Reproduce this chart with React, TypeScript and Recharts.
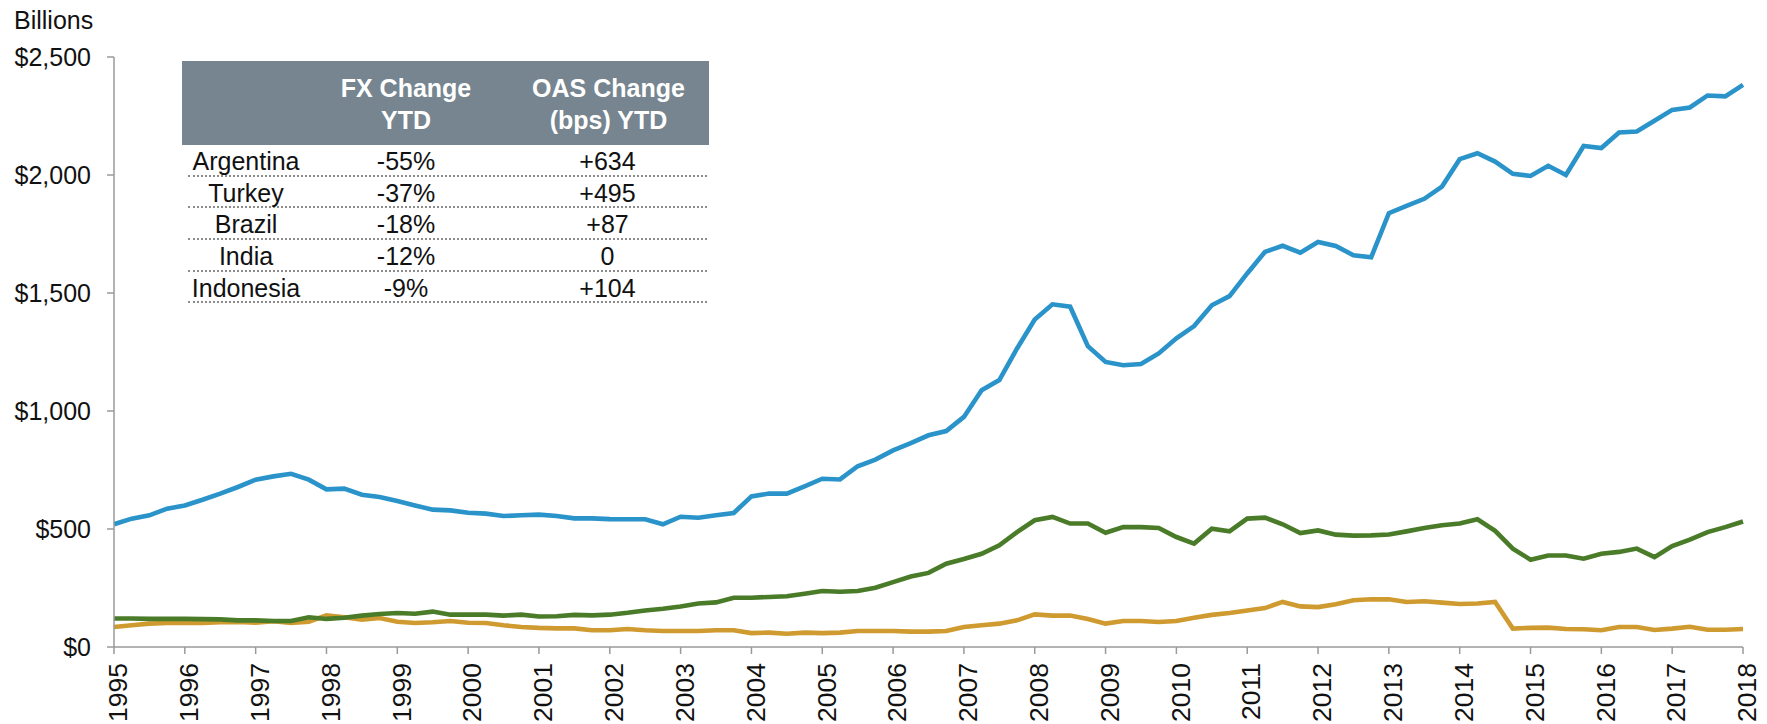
import React from "react";
import { LineChart, Line, XAxis, YAxis } from "recharts";

// ── Data ───────────────────────────────────────────────────────────────────
const years = [
  1995, 1996, 1997, 1998, 1999, 2000, 2001, 2002, 2003, 2004, 2005, 2006,
  2007, 2008, 2009, 2010, 2011, 2012, 2013, 2014, 2015, 2016, 2017, 2018,
];
const quarterNames = ["Q1", "Q2", "Q3", "Q4"];

// quarterly from 1995 Q1 to 2018 Q1 (93 points), $ billions
const blueSeries = [
  520, 544, 558, 586, 600, 624, 650, 678, 709, 723, 734, 709, 668, 671, 645, 636,
  619, 600, 582, 579, 569, 565, 555, 558, 561, 555, 545, 545,
  542, 541, 541, 520, 552, 548, 558, 568, 638, 650, 650, 681, 713, 710, 766, 794,
  833, 864, 897, 915, 975, 1088,
  1131, 1265, 1388, 1452, 1442, 1275, 1208, 1194, 1199, 1244, 1308, 1360, 1448,
  1487, 1583, 1674, 1700, 1671, 1716, 1699, 1660, 1651,
  1838, 1869, 1899, 1951, 2067, 2092, 2057, 2005, 1996, 2039, 2000, 2123, 2114,
  2180, 2184, 2230, 2276, 2286, 2337, 2333, 2382,
];
const greenSeries = [
  121, 121, 119, 119, 119, 118, 117, 113, 113, 110, 110, 126, 119, 124, 133, 140,
  144, 141, 150, 137, 137, 137, 133, 137, 129, 130, 136, 134,
  137, 145, 155, 162, 172, 184, 189, 209, 209, 212, 215, 226, 237, 234, 237, 251,
  275, 299, 314, 353, 373, 395, 431, 487, 537, 551, 523, 523, 484, 508, 508, 504, 466,
  438, 501, 490, 544, 548, 520, 483, 494, 476, 472, 473, 477, 490, 504, 516, 523,
  541, 492, 417, 370, 388, 388, 374, 395, 403, 417, 381, 428, 455, 487, 508, 532,
];
const goldSeries = [
  85, 92, 99, 102, 102, 102, 105, 106, 103, 109, 102, 107, 134, 126, 116, 123,
  107, 102, 105, 110, 103, 102, 92, 85, 81, 79, 79, 71,
  71, 76, 71, 68, 68, 68, 71, 71, 59, 61, 56, 61, 59, 61, 68, 68, 68, 65, 65, 68,
  85, 92, 99, 113, 138, 133, 133, 119, 99, 110, 110, 106, 110,
  124, 136, 144, 155, 165, 191, 172, 169, 181, 198, 202, 202, 191, 194, 188, 182,
  184, 191, 78, 81, 82, 76, 75, 71, 85, 85, 72, 78, 86, 73, 73, 76,
];

const yTicks = [0, 500, 1000, 1500, 2000, 2500];

// inset table
const countries = ["Argentina", "Turkey", "Brazil", "India", "Indonesia"];
const fxChange = ["-55%", "-37%", "-18%", "-12%", "-9%"];
const oasChange = ["+634", "+495", "+87", "0", "+104"];

const quarters = years.flatMap((y) => quarterNames.map((q) => `${y} ${q}`)).slice(0, blueSeries.length);
const chartData = quarters.map((quarter, i) => ({
  quarter,
  blue: blueSeries[i],
  green: greenSeries[i],
  gold: goldSeries[i],
}));
const yearTicks = years.map((y) => `${y} Q1`);

// ── Style tokens ───────────────────────────────────────────────────────────
const FONT = '"Liberation Sans", Arial, sans-serif';
const FS = 25;
const BLUE = "#2a93c9";
const GREEN = "#4a7b29";
const GOLD = "#cf9b30";
const AXIS = "#9a9a9a";
const TEXT = "#111";
const HEADER_BG = "#76858f";
const LINE_W = 4.6;

const YearTick = (props: any) => {
  const { x, y, payload } = props;
  return (
    <text
      x={x}
      y={y}
      transform={`rotate(-90, ${x}, ${y})`}
      textAnchor="end"
      dy="0.5em"
      fontSize={26.5}
      fill={TEXT}
      fontFamily={FONT}
    >
      {String(payload.value).slice(0, 4)}
    </text>
  );
};

// ── Inset table ────────────────────────────────────────────────────────────
const InsetTable: React.FC = () => (
  <div style={{ position: "absolute", left: 182, top: 61, width: 527, fontSize: FS }}>
    <div
      style={{
        display: "flex",
        height: 84,
        boxSizing: "border-box",
        paddingTop: 11,
        background: HEADER_BG,
        color: "#fff",
        fontWeight: "bold",
        lineHeight: "32px",
        textAlign: "center",
      }}
    >
      <div style={{ width: 122 }} />
      <div style={{ width: 204 }}>FX Change<br />YTD</div>
      <div style={{ width: 201 }}>OAS Change<br />(bps) YTD</div>
    </div>
    {countries.map((c, i) => (
      <div
        key={c}
        style={{
          display: "flex",
          marginLeft: 6,
          width: 519,
          height: 31.66,
          boxSizing: "border-box",
          borderBottom: "2px dotted #8c8c8c",
          paddingTop: 1,
          lineHeight: "31px",
          textAlign: "center",
          color: TEXT,
        }}
      >
        <div style={{ width: 116 }}>{c}</div>
        <div style={{ width: 204 }}>{fxChange[i]}</div>
        <div style={{ width: 199 }}>{oasChange[i]}</div>
      </div>
    ))}
  </div>
);

// ── Page ───────────────────────────────────────────────────────────────────
const App: React.FC = () => (
  <div
    style={{
      position: "absolute",
      left: 0,
      top: 0,
      width: 1767,
      height: 724,
      overflow: "hidden",
      background: "#fff",
      fontFamily: FONT,
    }}
  >
    <LineChart
      width={1767}
      height={724}
      data={chartData}
      margin={{ top: 57, right: 24, left: 0, bottom: 0 }}
    >
      <XAxis
        dataKey="quarter"
        ticks={yearTicks}
        interval={0}
        tick={<YearTick />}
        tickSize={7}
        tickMargin={9}
        height={77}
        stroke={AXIS}
        strokeWidth={1.5}
      />
      <YAxis
        domain={[0, 2500]}
        ticks={yTicks}
        width={114}
        tickSize={7}
        tickMargin={16}
        tick={{ fontSize: FS, fill: TEXT, fontFamily: FONT }}
        tickFormatter={(v: number) => `$${v.toLocaleString("en-US")}`}
        stroke={AXIS}
        strokeWidth={1.5}
      />
      <Line type="linear" dataKey="gold" stroke={GOLD} strokeWidth={LINE_W} dot={false} isAnimationActive={false} />
      <Line type="linear" dataKey="green" stroke={GREEN} strokeWidth={LINE_W} dot={false} isAnimationActive={false} />
      <Line type="linear" dataKey="blue" stroke={BLUE} strokeWidth={LINE_W} dot={false} isAnimationActive={false} />
    </LineChart>

    <div style={{ position: "absolute", left: 14, top: 8, fontSize: FS, lineHeight: "25px", color: TEXT }}>
      Billions
    </div>
    <InsetTable />
  </div>
);

export default App;
